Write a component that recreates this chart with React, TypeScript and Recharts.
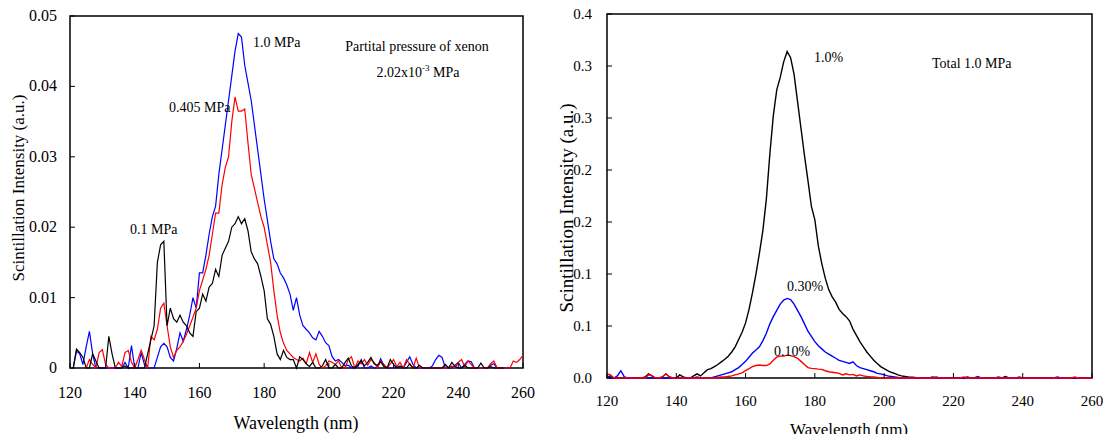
import React from "react";
import { LineChart, Line, XAxis, YAxis, ReferenceArea } from "recharts";

const FONT = '"Liberation Serif", "Times New Roman", serif';

// wavelength grid shared by both panels (nm)
const WAVELENGTH = [
  120, 121, 122, 123, 124, 125, 126, 127, 128, 129,
  130, 131, 132, 133, 134, 135, 136, 137, 138, 139,
  140, 141, 142, 143, 144, 145, 146, 147, 148, 149,
  150, 151, 152, 153, 154, 155, 156, 157, 158, 159,
  160, 161, 162, 163, 164, 165, 166, 167, 168, 169,
  170, 171, 172, 173, 174, 175, 176, 177, 178, 179,
  180, 181, 182, 183, 184, 185, 186, 187, 188, 189,
  190, 191, 192, 193, 194, 195, 196, 197, 198, 199,
  200, 201, 202, 203, 204, 205, 206, 207, 208, 209,
  210, 211, 212, 213, 214, 215, 216, 217, 218, 219,
  220, 221, 222, 223, 224, 225, 226, 227, 228, 229,
  230, 231, 232, 233, 234, 235, 236, 237, 238, 239,
  240, 241, 242, 243, 244, 245, 246, 247, 248, 249,
  250, 251, 252, 253, 254, 255, 256, 257, 258, 259,
  260,
];

// left panel: Xe partial pressure 2.02e-3 MPa, total pressure varied
const P_01MPA = [
  null, 0, 0.0027, 0.0022, 0.0015, 0, 0, 0.002, 0.001, 0,
  0, 0, 0.0045, 0.002, 0, 0, 0, 0.0003, 0, 0,
  0, 0, 0, 0, 0.002, 0.004, 0.006, 0.015, 0.0175, 0.018,
  0.006, 0.0085, 0.007, 0.0065, 0.0075, 0.0065, 0.006, 0.005, 0.0045, 0.008,
  0.0085, 0.0105, 0.0095, 0.0115, 0.012, 0.014, 0.013, 0.016, 0.017, 0.018,
  0.02, 0.0205, 0.0215, 0.0205, 0.0212, 0.0195, 0.0165, 0.0155, 0.0148, 0.013,
  0.011, 0.007, 0.0062, 0.0045, 0.002, 0.0012, 0.0025, 0.0015, 0.0012, 0.0012,
  0, 0.0016, 0.0012, 0.0006, 0.0002, 0.0008, 0, 0, 0.0003, 0.0012,
  0, 0, 0.0005, 0, 0, 0.0008, 0.0014, 0.0003, 0, 0.0005,
  0.001, 0.0003, 0.0008, 0.0015, 0.0006, 0.0004, 0.0009, 0.0002, 0, 0.0012,
  0.0005, 0, 0.0003, 0, 0, 0.0006, 0, 0, 0.0004, 0,
  0, 0, 0, 0, 0, 0, 0.0005, 0, 0.0008, 0.0002,
  0, 0, 0.0004, 0, 0, 0, 0, 0.0007, 0, 0,
  0.0002, 0, 0, 0, 0, null, null, null, null, null,
  null,
];

const P_0405MPA = [
  null, null, null, null, null, 0, 0.0012, 0.0005, 0, 0.0022,
  0.0026, 0.0005, 0, 0, 0, 0.0008, 0.0002, 0.0022, 0.0025, 0.0008,
  0, 0.0012, 0.0025, 0.0012, 0, 0.0045, 0.004, 0.0055, 0.0085, 0.0092,
  0.006, 0.003, 0.0015, 0.0025, 0.003, 0.0038, 0.0048, 0.006, 0.0072, 0.0085,
  0.011, 0.0125, 0.014, 0.016, 0.019, 0.022, 0.022, 0.026, 0.0285, 0.03,
  0.035, 0.0385, 0.0365, 0.0365, 0.0368, 0.032, 0.0275, 0.0255, 0.0235, 0.0215,
  0.02, 0.0175, 0.015, 0.011, 0.0075, 0.005, 0.0035, 0.0025, 0.002, 0.0015,
  0.0012, 0.001, 0.0014, 0.0006, 0.0022, 0.0008, 0.002, 0.0005, 0, 0.0003,
  0.001, 0.0008, 0.0005, 0.001, 0, 0, 0.0012, 0.0016, 0, 0.001,
  0.0006, 0.0012, 0.0004, 0.0012, 0.0008, 0, 0.001, 0.0005, 0, 0.0006,
  0.0012, 0.0002, 0.0008, 0, 0.0012, 0.0005, 0, 0.0014, 0, 0,
  0, 0, 0, 0, 0, 0, 0, 0, 0.0003, 0,
  0.0008, 0.0012, 0.0002, 0.001, 0.0005, 0, 0, 0, 0, 0,
  0.0006, 0.001, 0, 0, 0, 0, 0, 0.001, 0.0008, 0.0012,
  0.0018,
];

const P_10MPA = [
  null, 0, 0.0024, 0.002, 0.0005, 0.003, 0.0052, 0.002, 0, 0,
  0, 0, 0, 0, 0, 0, 0, 0.0008, 0, 0.0032,
  0, 0, 0.0022, 0.0005, 0, 0, 0, 0.0015, 0.003, 0.0035,
  0.003, 0.0015, 0.001, 0.0028, 0.005, 0.0038, 0.0055, 0.0075, 0.01, 0.0085,
  0.0135, 0.0135, 0.016, 0.019, 0.0215, 0.023, 0.0275, 0.031, 0.0345, 0.038,
  0.0415, 0.045, 0.0475, 0.047, 0.043, 0.0405, 0.038, 0.0345, 0.031, 0.0275,
  0.024, 0.021, 0.018, 0.0155, 0.0148, 0.0135, 0.0128, 0.0118, 0.0105, 0.0082,
  0.01, 0.0075, 0.006, 0.0055, 0.005, 0.0043, 0.004, 0.0052, 0.0045, 0.0036,
  0.0032, 0.0016, 0.001, 0.0012, 0.0008, 0.0003, 0.0004, 0, 0, 0.0002,
  0.0012, 0, 0, 0.0003, 0, 0, 0.0013, 0.0004, 0, 0,
  0, 0.0002, 0, 0, 0.0008, 0.0016, 0.0005, 0, 0, 0,
  0, 0, 0.0003, 0.0012, 0.0018, 0.0015, 0, 0, 0, 0.0004,
  0.0008, 0, 0.0005, 0.001, 0.0009, 0, 0, 0, 0, 0,
  0.0004, 0.0006, 0, 0, 0, 0, 0, null, null, null,
  null,
];

// right panel: total 1.0 MPa, Xe concentration varied
const XE_10PCT = [
  0.001, 0.002, 0, 0, 0, 0, 0, 0, 0, 0,
  0, 0.001, 0.004, 0.002, 0, 0, 0.001, 0.004, 0.001, 0,
  0, 0.003, 0.001, 0, 0, 0.002, 0.004, 0.002, 0.005, 0.008,
  0.009, 0.011, 0.013, 0.0155, 0.018, 0.021, 0.025, 0.03, 0.037, 0.044,
  0.053, 0.066, 0.082, 0.1, 0.12, 0.142, 0.172, 0.215, 0.252, 0.277,
  0.289, 0.304, 0.314, 0.308, 0.292, 0.266, 0.24, 0.214, 0.19, 0.165,
  0.152, 0.127, 0.11, 0.096, 0.085, 0.078, 0.073, 0.066, 0.062, 0.059,
  0.055, 0.047, 0.041, 0.035, 0.03, 0.025, 0.021, 0.017, 0.014, 0.011,
  0.009, 0.007, 0.0055, 0.0045, 0.003, 0.002, 0.0015, 0.001, 0.0008, 0.0005,
  0.0003, 0, 0, 0, 0.001, 0, 0, 0, 0, 0,
  0, 0, 0, 0, 0.001, 0, 0, 0, 0, 0,
  0, 0, 0, 0, 0, 0.0015, 0, 0, 0, 0,
  0, 0, 0, 0, 0, 0, 0, 0, 0, 0,
  0, 0, 0, 0, 0, 0, 0, 0, 0, 0,
  0,
];

const XE_030PCT = [
  0.002, 0, 0, 0.002, 0.007, 0.001, 0, 0, 0, 0,
  0, 0, 0, 0, 0, 0, 0, 0, 0, 0,
  0, 0, 0, 0, 0, 0, 0.001, 0, 0, 0,
  0, 0.001, 0.002, 0.003, 0.004, 0.005, 0.006, 0.008, 0.01, 0.013,
  0.016, 0.02, 0.024, 0.027, 0.03, 0.036, 0.043, 0.052, 0.059, 0.065,
  0.071, 0.075, 0.0765, 0.0755, 0.071, 0.065, 0.059, 0.052, 0.045, 0.04,
  0.035, 0.031, 0.028, 0.025, 0.023, 0.021, 0.019, 0.017, 0.016, 0.015,
  0.014, 0.0155, 0.012, 0.01, 0.009, 0.008, 0.007, 0.006, 0.0045, 0.004,
  0.003, 0.002, 0.0015, 0.001, 0.0005, 0, 0, 0, 0, 0,
  0, 0, 0, 0, 0, 0.001, 0, 0, 0, 0,
  0, 0, 0, 0, 0, 0, 0, 0.0015, 0, 0,
  0, 0, 0, 0.001, 0, 0, 0, 0, 0, 0.001,
  0, 0, 0, 0, 0, 0, 0, 0, 0, 0,
  0.001, 0, 0, 0, 0, 0, 0, 0, 0, 0,
  0,
];

const XE_010PCT = [
  0.004, 0.003, 0, 0, 0, 0, 0, 0, 0, 0,
  0, 0, 0.003, 0.002, 0, 0, 0.001, 0.004, 0.001, 0,
  0, 0, 0, 0, 0, 0, 0, 0, 0, 0,
  0, 0, 0.0005, 0.001, 0.001, 0.0015, 0.002, 0.003, 0.004, 0.005,
  0.007, 0.009, 0.011, 0.012, 0.0125, 0.012, 0.012, 0.0135, 0.017, 0.02,
  0.021, 0.021, 0.022, 0.0215, 0.0205, 0.019, 0.016, 0.013, 0.01, 0.0093,
  0.009, 0.0085, 0.0083, 0.007, 0.006, 0.0055, 0.005, 0.0045, 0.003, 0.004,
  0.003, 0.0035, 0.002, 0.003, 0.002, 0.0015, 0.0012, 0.001, 0.0005, 0,
  0, 0, 0, 0, 0, 0, 0, 0, 0, 0,
  0, 0, 0, 0, 0, 0, 0, 0, 0, 0,
  0, 0, 0, 0.001, 0, 0, 0, 0, 0, 0,
  0, 0, 0, 0, 0, 0, 0, 0, 0, 0,
  0, 0, 0, 0, 0, 0, 0, 0, 0, 0,
  0, 0, 0, 0, 0, 0.001, 0, 0, 0, 0,
  0,
];

const X_TICKS = [120, 140, 160, 180, 200, 220, 240, 260];
const LEFT_Y_TICKS = [0, 0.01, 0.02, 0.03, 0.04, 0.05];
const LEFT_Y_LABELS = ["0", "0.01", "0.02", "0.03", "0.04", "0.05"];
const RIGHT_Y_TICKS = [0, 0.05, 0.1, 0.15, 0.2, 0.25, 0.3, 0.35];
const RIGHT_Y_LABELS = ["0.0", "0.1", "0.1", "0.2", "0.2", "0.3", "0.3", "0.4"];

const leftData = WAVELENGTH.map((w, i) => ({
  w,
  p01: P_01MPA[i],
  p0405: P_0405MPA[i],
  p10: P_10MPA[i],
}));

const rightData = WAVELENGTH.map((w, i) => ({
  w,
  x10: XE_10PCT[i],
  x030: XE_030PCT[i],
  x010: XE_010PCT[i],
}));

// inward tick marks, label below
function makeXTick(fontSize: number, dy: number) {
  return (props: any) => {
    const { x, y, payload } = props;
    return (
      <g>
        <line x1={x} y1={y} x2={x} y2={y - 5} stroke="#000" strokeWidth={1} />
        <text x={x} y={y + dy} textAnchor="middle" fontSize={fontSize} fontFamily={FONT} fill="#000">
          {payload.value}
        </text>
      </g>
    );
  };
}

function makeYTick(values: number[], labels: string[], fontSize: number, gap: number) {
  return (props: any) => {
    const { x, y, payload } = props;
    const i = values.findIndex((v) => Math.abs(v - payload.value) < 1e-9);
    return (
      <g>
        <line x1={x} y1={y} x2={x + 5} y2={y} stroke="#000" strokeWidth={1} />
        <text x={x - gap} y={y + 5} textAnchor="end" fontSize={fontSize} fontFamily={FONT} fill="#000">
          {i >= 0 ? labels[i] : payload.value}
        </text>
      </g>
    );
  };
}

function Note({
  x,
  y,
  center,
  size = 14,
  children,
}: {
  x: number;
  y: number;
  center?: boolean;
  size?: number;
  children: React.ReactNode;
}) {
  return (
    <div
      style={{
        position: "absolute",
        left: x,
        top: y,
        transform: center ? "translate(-50%, -50%)" : "translate(0, -50%)",
        fontSize: size,
        lineHeight: 1,
        whiteSpace: "nowrap",
        color: "#000",
      }}
    >
      {children}
    </div>
  );
}

function VLabel({ x, y, size, children }: { x: number; y: number; size: number; children: React.ReactNode }) {
  return (
    <div
      style={{
        position: "absolute",
        left: x,
        top: y,
        transform: "translate(-50%, -50%) rotate(-90deg)",
        fontSize: size,
        lineHeight: 1,
        whiteSpace: "nowrap",
        color: "#000",
      }}
    >
      {children}
    </div>
  );
}

export default function App() {
  return (
    <div
      style={{
        position: "absolute",
        left: 0,
        top: 0,
        width: 1103,
        height: 434,
        overflow: "hidden",
        background: "#fff",
        fontFamily: FONT,
      }}
    >
      <div style={{ position: "absolute", left: 0, top: 0 }}>
        <LineChart width={545} height={434} data={leftData} margin={{ top: 16, right: 22, bottom: 36, left: 10 }}>
          <XAxis
            dataKey="w"
            type="number"
            domain={[120, 260]}
            ticks={X_TICKS}
            interval={0}
            axisLine={false}
            tickLine={false}
            tickSize={0}
            tickMargin={0}
            height={30}
            tick={makeXTick(16, 30)}
          />
          <YAxis
            type="number"
            domain={[0, 0.05]}
            ticks={LEFT_Y_TICKS}
            interval={0}
            axisLine={false}
            tickLine={false}
            tickSize={0}
            tickMargin={0}
            width={60}
            tick={makeYTick(LEFT_Y_TICKS, LEFT_Y_LABELS, 16, 13)}
          />
          <Line dataKey="p10" type="linear" stroke="#0000ff" strokeWidth={1.2} dot={false} isAnimationActive={false} />
          <Line dataKey="p0405" type="linear" stroke="#ff0000" strokeWidth={1.2} dot={false} isAnimationActive={false} />
          <Line dataKey="p01" type="linear" stroke="#000000" strokeWidth={1.2} dot={false} isAnimationActive={false} />
          <ReferenceArea x1={120} x2={260} y1={0} y2={0.05} fill="none" stroke="#000" strokeWidth={1.5} ifOverflow="visible" />
        </LineChart>
      </div>

      <div style={{ position: "absolute", left: 550, top: 0 }}>
        <LineChart width={553} height={434} data={rightData} margin={{ top: 14, right: 11, bottom: 26, left: 12 }}>
          <XAxis
            dataKey="w"
            type="number"
            domain={[120, 260]}
            ticks={X_TICKS}
            interval={0}
            axisLine={false}
            tickLine={false}
            tickSize={0}
            tickMargin={0}
            height={30}
            tick={makeXTick(15, 28)}
          />
          <YAxis
            type="number"
            domain={[0, 0.35]}
            ticks={RIGHT_Y_TICKS}
            interval={0}
            axisLine={false}
            tickLine={false}
            tickSize={0}
            tickMargin={0}
            width={45}
            tick={makeYTick(RIGHT_Y_TICKS, RIGHT_Y_LABELS, 15, 15)}
          />
          <Line dataKey="x10" type="linear" stroke="#000000" strokeWidth={1.4} dot={false} isAnimationActive={false} />
          <Line dataKey="x030" type="linear" stroke="#0000ff" strokeWidth={1.4} dot={false} isAnimationActive={false} />
          <Line dataKey="x010" type="linear" stroke="#ff0000" strokeWidth={1.4} dot={false} isAnimationActive={false} />
          <ReferenceArea x1={120} x2={260} y1={0} y2={0.35} fill="none" stroke="#000" strokeWidth={1.5} ifOverflow="visible" />
        </LineChart>
      </div>

      {/* left panel annotations */}
      <Note x={253} y={43}>1.0 MPa</Note>
      <Note x={417} y={47} center>Partital pressure of xenon</Note>
      <Note x={418} y={72} center>
        2.02x10<sup style={{ fontSize: 9, verticalAlign: "6px" }}>-3</sup> MPa
      </Note>
      <Note x={169} y={108}>0.405 MPa</Note>
      <Note x={130} y={230}>0.1 MPa</Note>
      <Note x={296} y={423} center size={18}>Wavelength (nm)</Note>
      <VLabel x={18} y={188} size={17}>Scintillation Intensity (a.u.)</VLabel>

      {/* right panel annotations */}
      <Note x={814} y={58}>1.0%</Note>
      <Note x={932} y={64}>Total 1.0 MPa</Note>
      <Note x={787} y={287}>0.30%</Note>
      <Note x={774} y={352}>0.10%</Note>
      <Note x={849} y={429} center size={17}>Wavelength (nm)</Note>
      <VLabel x={566} y={208} size={19}>Scintillation Intensity (a.u.)</VLabel>
    </div>
  );
}
